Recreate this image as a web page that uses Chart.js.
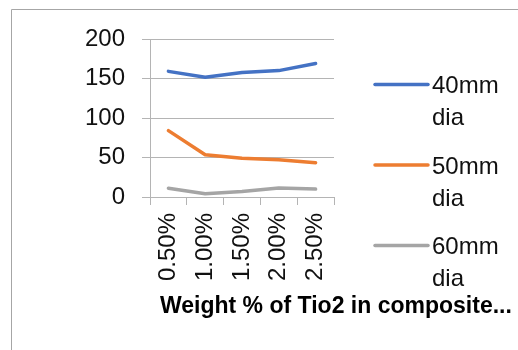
<!DOCTYPE html>
<html>
<head>
<meta charset="utf-8">
<script src="https://cdn.jsdelivr.net/npm/chart.js@4/dist/chart.umd.min.js"></script>
<style>
  html, body { margin: 0; padding: 0; background: #fff; }
  #wrap { width: 518px; height: 350px; position: relative; }
</style>
</head>
<body>
<div id="wrap"><canvas id="c" width="518" height="350"></canvas></div>
<script>
// Categories and series
const categories = ['0.50%', '1.00%', '1.50%', '2.00%', '2.50%'];
const dia40 = [159, 151.5, 157.5, 160, 169];
const dia50 = [84, 53.5, 49, 47, 43.5];
const dia60 = [11, 4, 7, 11.5, 10];
const seriesNames = ['40mm dia', '50mm dia', '60mm dia'];
const seriesColors = ['#4472C4', '#ED7D31', '#A5A5A5'];
const yTicks = [0, 50, 100, 150, 200];
const xTitle = 'Weight % of Tio2 in composite...';

const FONT = '"Liberation Sans", Arial, sans-serif';
const GRID = '#b4b4b4';
const TEXT = '#111111';

// Outer frame (top and left edges)
const framePlugin = {
  id: 'frame',
  beforeDraw(chart) {
    const ctx = chart.ctx;
    ctx.save();
    ctx.fillStyle = '#ffffff';
    ctx.fillRect(0, 0, chart.width, chart.height);
    ctx.strokeStyle = '#a6a6a6';
    ctx.lineWidth = 1;
    ctx.beginPath();
    ctx.moveTo(11.5, chart.height);
    ctx.lineTo(11.5, 9.5);
    ctx.lineTo(chart.width, 9.5);
    ctx.stroke();
    ctx.restore();
  }
};

// Right-hand legend with wrapped labels
const legendPlugin = {
  id: 'sideLegend',
  afterDraw(chart) {
    const ctx = chart.ctx;
    ctx.save();
    chart.data.datasets.forEach((ds, i) => {
      const y = 84.5 + i * 80.5;
      ctx.strokeStyle = ds.borderColor;
      ctx.lineWidth = 3.5;
      ctx.lineCap = 'round';
      ctx.beginPath();
      ctx.moveTo(375, y);
      ctx.lineTo(428, y);
      ctx.stroke();
      ctx.fillStyle = TEXT;
      ctx.font = '24px ' + FONT;
      ctx.textAlign = 'left';
      ctx.textBaseline = 'alphabetic';
      const words = ds.label.split(' ');
      words.forEach((w, k) => ctx.fillText(w, 432, y + 8.5 + k * 32));
    });
    ctx.restore();
  }
};

// Horizontal-axis title
const xTitlePlugin = {
  id: 'xTitle',
  afterDraw(chart) {
    const ctx = chart.ctx;
    ctx.save();
    ctx.fillStyle = '#000';
    ctx.font = 'bold 23px ' + FONT;
    ctx.textAlign = 'left';
    ctx.textBaseline = 'alphabetic';
    ctx.fillText(xTitle, 160, 313);
    ctx.restore();
  }
};

const datasets = [dia40, dia50, dia60].map((vals, i) => ({
  label: seriesNames[i],
  data: vals,
  borderColor: seriesColors[i],
  backgroundColor: seriesColors[i],
  borderWidth: 3.5,
  pointRadius: 0,
  tension: 0,
  borderCapStyle: 'round',
  borderJoinStyle: 'round',
  fill: false
}));

new Chart(document.getElementById('c'), {
  type: 'line',
  data: { labels: categories, datasets },
  options: {
    responsive: false,
    animation: false,
    devicePixelRatio: 1,
    layout: { padding: { top: 39, right: 184, bottom: 0, left: 0 } },
    plugins: { legend: { display: false }, tooltip: { enabled: false } },
    scales: {
      x: {
        type: 'category',
        offset: true,
        grid: { offset: true, drawOnChartArea: false, drawTicks: true, tickLength: 8, color: GRID },
        border: { display: true, color: GRID },
        ticks: {
          autoSkip: false, minRotation: 90, maxRotation: 90, padding: 8,
          color: TEXT, font: { family: FONT, size: 24 }
        },
        afterFit(scale) { scale.height = 153; }
      },
      y: {
        min: 0, max: 200,
        afterBuildTicks(scale) { scale.ticks = yTicks.map(v => ({ value: v })); },
        grid: { color: GRID, tickLength: 8, drawTicks: true },
        border: { display: true, color: GRID },
        ticks: { padding: 17, color: TEXT, font: { family: FONT, size: 24 } },
        afterFit(scale) { scale.width = 150; }
      }
    }
  },
  plugins: [framePlugin, legendPlugin, xTitlePlugin]
});
</script>
</body>
</html>
